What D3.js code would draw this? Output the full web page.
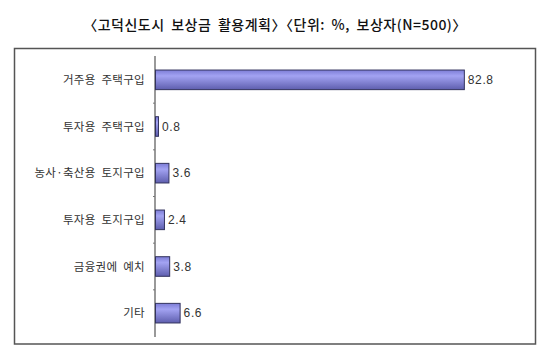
<!DOCTYPE html>
<html><head><meta charset="utf-8">
<script src="https://cdn.jsdelivr.net/npm/d3@7"></script>
<style>
html,body{margin:0;padding:0;background:#fff;}
svg{display:block;}
</style></head>
<body>
<svg id="chart" width="550" height="359"></svg>
<script>
const title = "〈고덕신도시 보상금 활용계획〉〈단위: %, 보상자(N=500)〉";
const categories = ["거주용 주택구입", "투자용 주택구입", "농사·축산용 토지구입", "투자용 토지구입", "금융권에 예치", "기타"];
const values = [82.8, 0.8, 3.6, 2.4, 3.8, 6.6];
const valueLabels = ["82.8", "0.8", "3.6", "2.4", "3.8", "6.6"];

const svg = d3.select("#chart");
const font = "'Noto Sans CJK KR', 'Noto Sans', sans-serif";

const defs = svg.append("defs");
const grad = defs.append("linearGradient").attr("id","barGrad")
  .attr("x1","0").attr("y1","0").attr("x2","0").attr("y2","1");
grad.append("stop").attr("offset","0%").attr("stop-color","#7c7cd6");
grad.append("stop").attr("offset","30%").attr("stop-color","#a3a3f2");
grad.append("stop").attr("offset","100%").attr("stop-color","#5e5eae");

svg.append("text")
  .attr("x", 275).attr("y", 30)
  .attr("text-anchor","middle")
  .attr("font-family", font)
  .attr("font-size", 14)
  .attr("font-weight", 500)
  .attr("letter-spacing", 0.5)
  .attr("word-spacing", 3)
  .attr("fill","#111")
  .text(title);

svg.append("rect")
  .attr("x", 14.5).attr("y", 48.5).attr("width", 521).attr("height", 295.5)
  .attr("fill","none").attr("stroke","#555").attr("stroke-width",1.5);

const x = d3.scaleLinear().domain([0, 100]).range([155, 528]);
const y = d3.scaleBand().domain(categories).range([56.5, 336.5]).paddingInner(0.58).paddingOuter(0.29);

// axis
const axisG = svg.append("g").attr("transform", "translate(155,0)");
axisG.append("line").attr("x1",0).attr("x2",0).attr("y1",56).attr("y2",337)
  .attr("stroke","#777").attr("stroke-width",1.5);
const step = y.step();
const tickYs = d3.range(1, categories.length).map(i => 56.5 + i*step);
axisG.selectAll("line.tick").data(tickYs).join("line")
  .attr("class","tick")
  .attr("x1",-2).attr("x2",0).attr("y1",d=>d).attr("y2",d=>d)
  .attr("stroke","#777").attr("stroke-width",1);

svg.selectAll("text.cat").data(categories).join("text")
  .attr("class","cat")
  .attr("x", 145)
  .attr("y", d => y(d) + y.bandwidth()/2)
  .attr("dy","0.36em")
  .attr("text-anchor","end")
  .attr("font-family", font)
  .attr("font-size", 11.5)
  .attr("letter-spacing", 0.3)
  .attr("word-spacing", 3)
  .attr("fill","#333")
  .text(d => d);

svg.selectAll("rect.bar").data(values).join("rect")
  .attr("class","bar")
  .attr("x", x(0) + 0.5)
  .attr("y", (d,i) => y(categories[i]))
  .attr("width", d => x(d) - x(0))
  .attr("height", y.bandwidth())
  .attr("fill","url(#barGrad)")
  .attr("stroke","#33335e").attr("stroke-width",1);

svg.selectAll("text.val").data(values).join("text")
  .attr("class","val")
  .attr("x", d => x(d) + 4)
  .attr("y", (d,i) => y(categories[i]) + y.bandwidth()/2)
  .attr("dy","0.36em")
  .attr("font-family", "'Liberation Sans', Arial, sans-serif")
  .attr("font-size", 12)
  .attr("letter-spacing", 0.6)
  .attr("fill","#333")
  .text((d,i) => valueLabels[i]);
</script>
</body></html>
